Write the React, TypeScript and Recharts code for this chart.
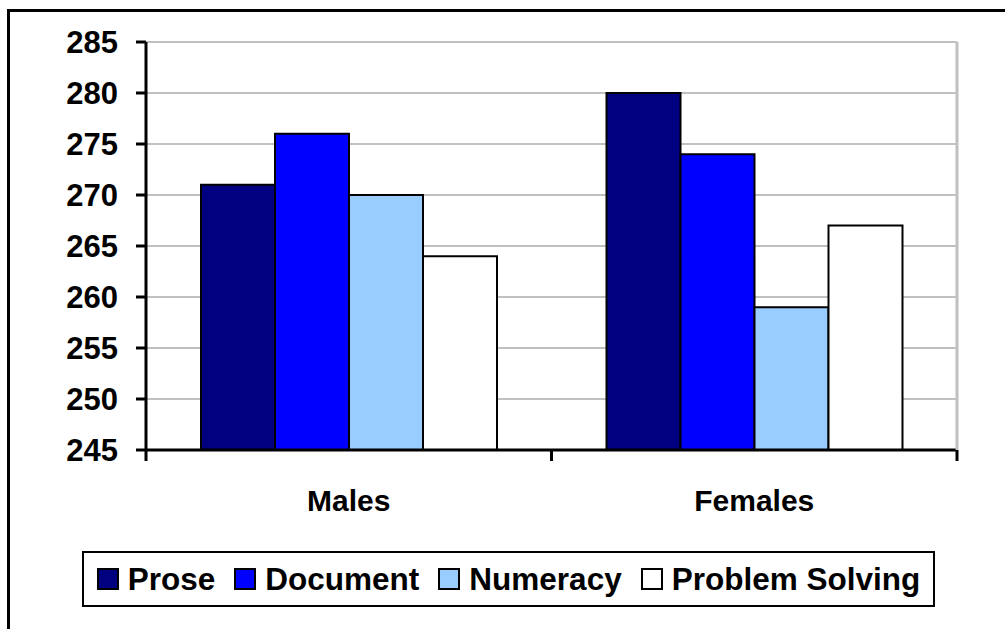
import React from 'react';
import { Bar, BarChart, CartesianGrid, XAxis, YAxis } from 'recharts';

const categories = ['Males', 'Females'];
const seriesNames = ['Prose', 'Document', 'Numeracy', 'Problem Solving'];
const seriesColors = ['#000080', '#0000FF', '#99CCFF', '#FFFFFF'];
const prose = [271, 280];
const documentScores = [276, 274];
const numeracy = [270, 259];
const problemSolving = [264, 267];
const yTicks = [245, 250, 255, 260, 265, 270, 275, 280, 285];

const seriesValues = [prose, documentScores, numeracy, problemSolving];

const data = categories.map((name, i) => {
  const row: Record<string, string | number> = { name };
  seriesNames.forEach((s, j) => {
    row[s] = seriesValues[j][i];
  });
  return row;
});

const FONT = '"Liberation Sans", Arial, sans-serif';
const W = 1005;
const H = 629;
const MARGIN = { top: 42, right: 47, bottom: 0, left: 0 };
const Y_AXIS_W = 146;
const X_AXIS_H = 179;
const PLOT_W = W - MARGIN.left - MARGIN.right - Y_AXIS_W - 1;
const BAND = PLOT_W / categories.length;

// category label centred in its band, with tick marks on the band edges
const CategoryTick = (props: any) => {
  const { x, y, payload } = props;
  const half = BAND / 2;
  return (
    <g>
      <line x1={x - half} y1={y} x2={x - half} y2={y + 11} stroke="#000" strokeWidth={3} />
      <line x1={x + half} y1={y} x2={x + half} y2={y + 11} stroke="#000" strokeWidth={3} />
      <text
        x={x}
        y={y + 50}
        textAnchor="middle"
        dominantBaseline="central"
        fontFamily={FONT}
        fontWeight="bold"
        fontSize={30}
        fill="#000"
      >
        {payload.value}
      </text>
    </g>
  );
};

const App = () => {
  return (
    <div style={{ position: 'fixed', left: 0, top: 0, width: W, height: H, overflow: 'hidden', background: '#fff' }}>
      <div
        style={{
          position: 'absolute',
          left: 7,
          top: 9,
          width: 1200,
          height: 800,
          border: '3px solid #000',
        }}
      />
      <div style={{ position: 'absolute', left: 0, top: 0 }}>
        <BarChart width={W} height={H} data={data} margin={MARGIN} barCategoryGap={55} barGap={0}>
          <CartesianGrid vertical={false} stroke="#C0C0C0" strokeWidth={2} />
          <XAxis
            dataKey="name"
            height={X_AXIS_H}
            axisLine={{ stroke: '#000', strokeWidth: 3 }}
            tickLine={false}
            tickSize={0}
            tickMargin={0}
            tick={<CategoryTick />}
            interval={0}
          />
          <YAxis
            width={Y_AXIS_W}
            domain={[245, 285]}
            ticks={yTicks}
            allowDataOverflow
            axisLine={{ stroke: '#000', strokeWidth: 3 }}
            tickLine={{ stroke: '#000', strokeWidth: 3 }}
            tickSize={10}
            tickMargin={18}
            tick={{ fontFamily: FONT, fontWeight: 'bold', fontSize: 31, fill: '#000' }}
          />
          {/* grey frame line on the right edge of the plot */}
          <YAxis
            yAxisId="right"
            orientation="right"
            width={1}
            domain={[245, 285]}
            tick={false}
            tickLine={false}
            axisLine={{ stroke: '#C0C0C0', strokeWidth: 3 }}
          />
          {seriesNames.map((s, j) => (
            <Bar
              key={s}
              dataKey={s}
              fill={seriesColors[j]}
              stroke="#000"
              strokeWidth={2}
              isAnimationActive={false}
            />
          ))}
        </BarChart>
      </div>
      <div
        style={{
          position: 'absolute',
          left: 82,
          top: 551,
          width: 849,
          height: 52,
          border: '2px solid #000',
          display: 'flex',
          alignItems: 'center',
          justifyContent: 'center',
          gap: 19,
          fontFamily: FONT,
          fontWeight: 'bold',
          fontSize: 31.5,
          color: '#000',
        }}
      >
        {seriesNames.map((s, j) => (
          <div key={s} style={{ display: 'flex', alignItems: 'center', gap: 9 }}>
            <span
              style={{
                display: 'inline-block',
                width: 18,
                height: 18,
                background: seriesColors[j],
                border: '2px solid #000',
              }}
            />
            <span>{s}</span>
          </div>
        ))}
      </div>
    </div>
  );
};

export default App;
